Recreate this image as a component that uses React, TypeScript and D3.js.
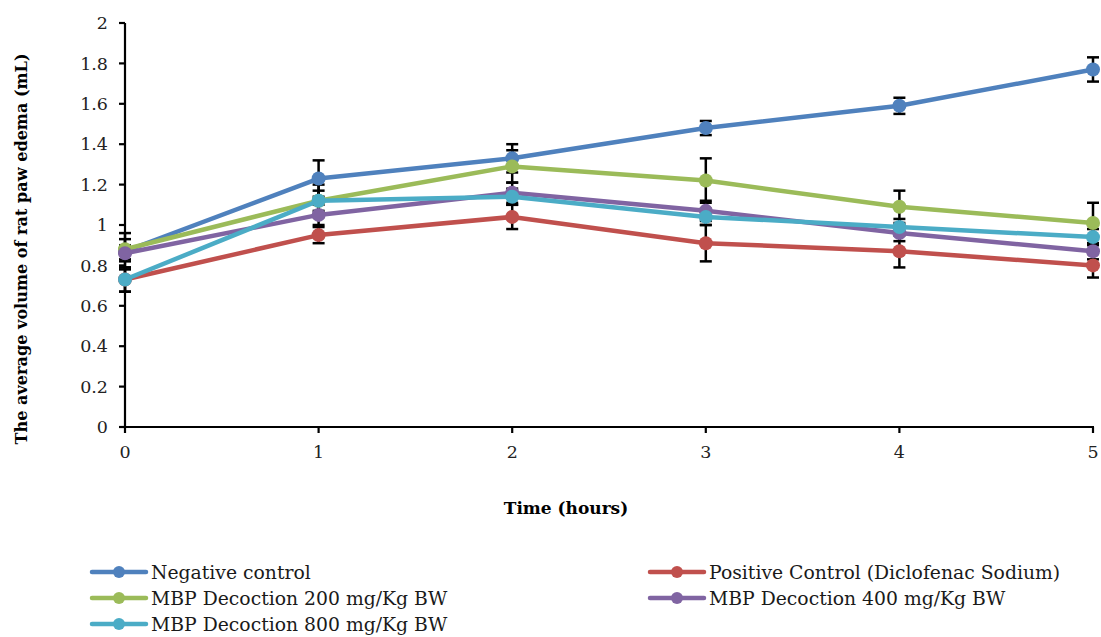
import React from "react";
import * as d3 from "d3";

const hours = [0, 1, 2, 3, 4, 5];
const yTicks = [0, 0.2, 0.4, 0.6, 0.8, 1, 1.2, 1.4, 1.6, 1.8, 2];

const seriesNames = [
  "Negative control",
  "Positive Control (Diclofenac Sodium)",
  "MBP Decoction 200 mg/Kg BW",
  "MBP Decoction 400 mg/Kg BW",
  "MBP Decoction 800 mg/Kg BW",
];
const seriesColors = ["#4F81BD", "#C0504D", "#9BBB59", "#8064A2", "#4BACC6"];

const negative = [0.87, 1.23, 1.33, 1.48, 1.59, 1.77];
const positive = [0.73, 0.95, 1.04, 0.91, 0.87, 0.8];
const mbp200 = [0.88, 1.12, 1.29, 1.22, 1.09, 1.01];
const mbp400 = [0.86, 1.05, 1.16, 1.07, 0.96, 0.87];
const mbp800 = [0.73, 1.12, 1.14, 1.04, 0.99, 0.94];

const negativeErr = [0.09, 0.09, 0.07, 0.035, 0.04, 0.06];
const positiveErr = [0.06, 0.04, 0.06, 0.09, 0.08, 0.06];
const mbp200Err = [0.05, 0.08, 0.08, 0.11, 0.08, 0.1];
const mbp400Err = [0.04, 0.05, 0.05, 0.05, 0.04, 0.04];
const mbp800Err = [0.06, 0.05, 0.04, 0.04, 0.04, 0.04];

const allValues = [negative, positive, mbp200, mbp400, mbp800];
const allErrors = [negativeErr, positiveErr, mbp200Err, mbp400Err, mbp800Err];

const FONT = "'DejaVu Serif', 'Liberation Serif', serif";

export default function App() {
  const W = 1101;
  const H = 637;
  const x = d3.scaleLinear().domain([0, 5]).range([125, 1093]);
  const y = d3.scaleLinear().domain([0, 2]).range([427, 23]);
  const line = d3
    .line<number>()
    .x((_, i) => x(hours[i]))
    .y((d) => y(d));

  const legendPos = [
    { lx: 92, ly: 572 },
    { lx: 650, ly: 572 },
    { lx: 92, ly: 598 },
    { lx: 650, ly: 598 },
    { lx: 92, ly: 624 },
  ];

  return (
    <svg
      width={W}
      height={H}
      style={{ position: "absolute", left: 0, top: 0, background: "#fff" }}
      fontFamily={FONT}
    >
      {/* y axis */}
      <line x1={x(0)} x2={x(0)} y1={y(0) + 1} y2={y(2)} stroke="#000" strokeWidth={2.2} />
      {yTicks.map((t) => (
        <g key={"y" + t}>
          <line x1={x(0) - 6} x2={x(0)} y1={y(t)} y2={y(t)} stroke="#000" strokeWidth={2.2} />
          <text x={108} y={y(t)} dy="0.35em" textAnchor="end" fontSize={17.5} fill="#222">
            {String(t)}
          </text>
        </g>
      ))}
      {/* x axis */}
      <line x1={x(0) - 6} x2={x(5) + 1} y1={y(0)} y2={y(0)} stroke="#000" strokeWidth={2.2} />
      {hours.map((h) => (
        <g key={"x" + h}>
          <line x1={x(h)} x2={x(h)} y1={y(0)} y2={y(0) + 6} stroke="#000" strokeWidth={2.2} />
          <text x={x(h)} y={y(0) + 31} textAnchor="middle" fontSize={17.5} fill="#222">
            {h}
          </text>
        </g>
      ))}

      {/* axis titles */}
      <text x={566} y={514} textAnchor="middle" fontSize={17} fontWeight="bold" fill="#000">
        Time (hours)
      </text>
      <text
        transform={`translate(27, 249) rotate(-90)`}
        textAnchor="middle"
        fontSize={16.1}
        fontWeight="bold"
        fill="#000"
      >
        The average volume of rat paw edema (mL)
      </text>

      {/* error bars */}
      {allValues.map((vals, si) =>
        vals.map((v, i) => {
          const e = allErrors[si][i];
          const cx = x(hours[i]);
          return (
            <g key={`e${si}-${i}`} stroke="#000" strokeWidth={2.5}>
              <line x1={cx} x2={cx} y1={y(v - e)} y2={y(v + e)} />
              <line x1={cx - 6} x2={cx + 6} y1={y(v + e)} y2={y(v + e)} />
              <line x1={cx - 6} x2={cx + 6} y1={y(v - e)} y2={y(v - e)} />
            </g>
          );
        })
      )}

      {/* series */}
      {allValues.map((vals, si) => (
        <g key={"s" + si}>
          <path d={line(vals) || ""} fill="none" stroke={seriesColors[si]} strokeWidth={4.5} strokeLinejoin="round" />
          {vals.map((v, i) => (
            <circle key={i} cx={x(hours[i])} cy={y(v)} r={7} fill={seriesColors[si]} />
          ))}
        </g>
      ))}

      {/* legend */}
      {seriesNames.map((name, si) => {
        const { lx, ly } = legendPos[si];
        return (
          <g key={"l" + si}>
            <line x1={lx} x2={lx + 54} y1={ly} y2={ly} stroke={seriesColors[si]} strokeWidth={4.5} strokeLinecap="round" />
            <circle cx={lx + 27} cy={ly} r={6} fill={seriesColors[si]} />
            <text x={lx + 59} y={ly} dy="0.35em" fontSize={18.8} fill="#1a1a1a">
              {name}
            </text>
          </g>
        );
      })}
    </svg>
  );
}
